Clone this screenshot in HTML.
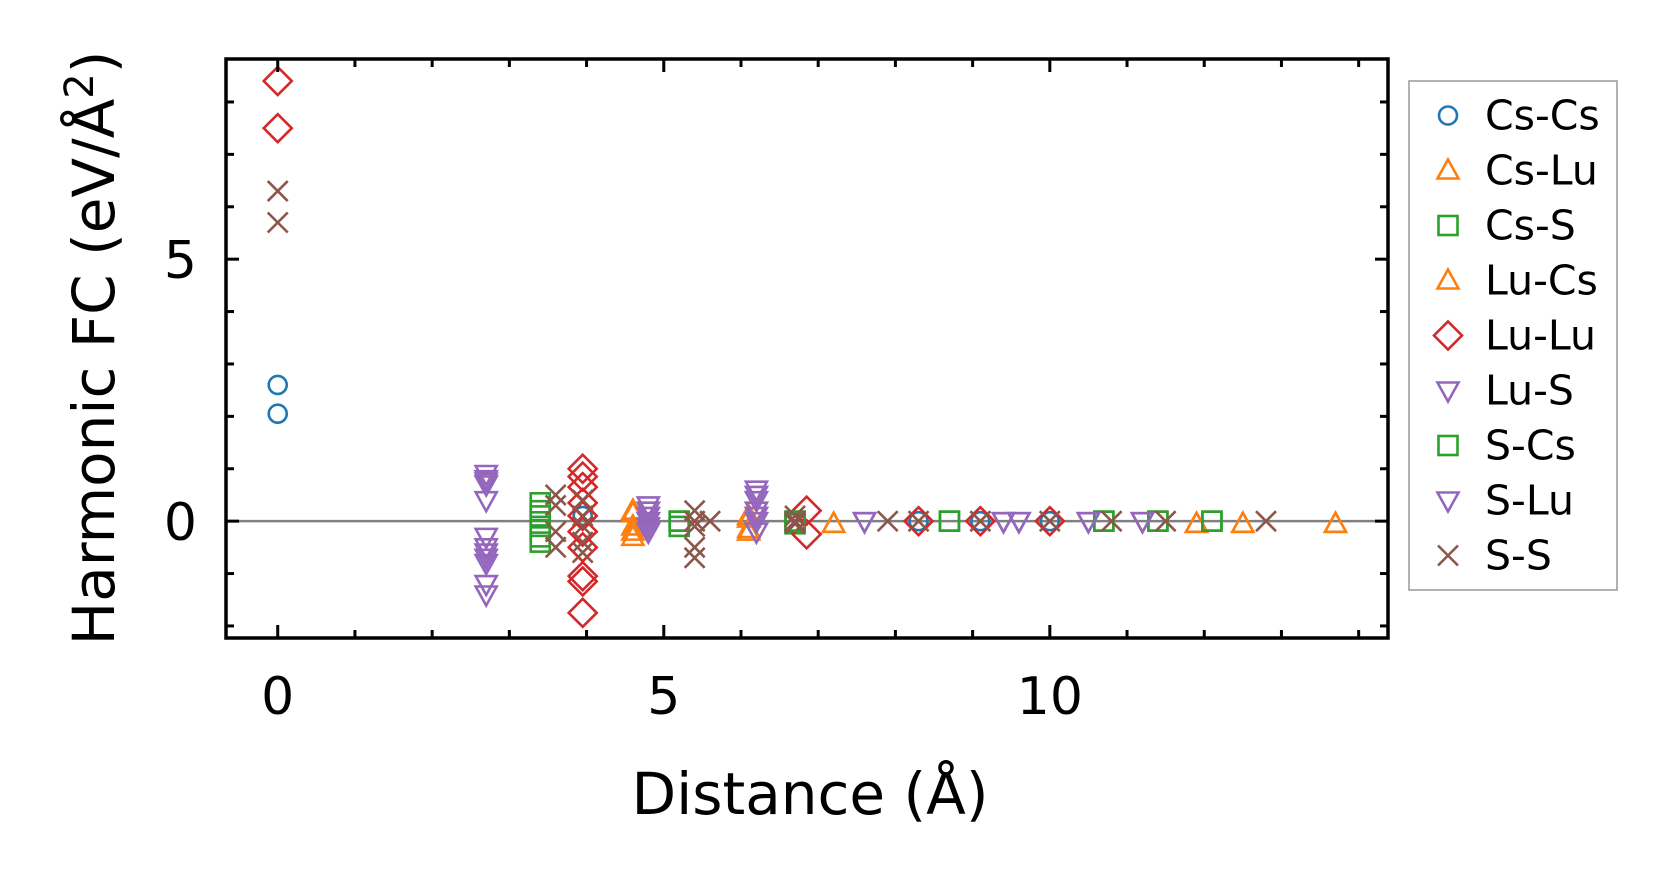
<!DOCTYPE html>
<html><head><meta charset="utf-8">
<style>
html,body{margin:0;padding:0;background:#fff;}
svg{display:block;font-family:"DejaVu Sans","Liberation Sans",sans-serif;}
</style></head>
<body>
<svg id="chart" width="1677" height="883" viewBox="0 0 1677 883" xmlns="http://www.w3.org/2000/svg"></svg>
<script>
// ---- data ----
const csCsX = [0, 0, 3.95, 8.3, 9.1, 10];
const csCsY = [2.6, 2.05, 0.1, 0, 0, 0];
const csLuX = [4.6, 4.6, 4.6, 6.1, 6.1, 7.2, 11.9, 12.5, 13.7];
const csLuY = [0.15, -0.1, -0.3, 0.05, -0.2, -0.05, -0.05, -0.05, -0.05];
const csSX = [3.4, 3.4, 3.4, 3.4, 5.2, 5.2, 6.7, 6.7, 8.7, 10.7, 11.4, 12.1];
const csSY = [0.35, 0.1, -0.1, -0.4, 0, -0.1, 0, -0.05, 0, 0, 0, 0];
const luCsX = [4.6, 4.6, 6.1, 6.1, 7.2, 11.9, 12.5, 13.7];
const luCsY = [0.2, -0.2, 0.1, -0.15, -0.05, -0.05, -0.05, -0.05];
const luLuX = [0, 0, 3.95, 3.95, 3.95, 3.95, 3.95, 3.95, 3.95, 3.95, 3.95, 3.95, 6.85, 6.85, 8.3, 9.1, 10];
const luLuY = [8.4, 7.5, 1.0, 0.85, 0.65, 0.35, 0.1, -0.2, -0.5, -1.05, -1.15, -1.75, 0.2, -0.25, 0, 0, 0];
const luSX = [2.7, 2.7, 2.7, 2.7, 2.7, 2.7, 2.7, 2.7, 2.7, 2.7, 4.8, 4.8, 4.8, 4.8, 6.2, 6.2, 6.2, 6.2, 6.2, 7.6, 9.4, 9.6, 10.5, 11.2];
const luSY = [0.9, 0.8, 0.7, 0.4, -0.3, -0.5, -0.7, -0.8, -1.2, -1.4, 0.3, 0.1, 0, -0.2, 0.6, 0.4, 0.2, 0, -0.2, 0, 0, 0, 0, 0];
const sLuX = [2.7, 2.7, 4.8, 4.8, 6.2, 6.2, 7.6, 9.4, 9.6, 10.5, 11.2];
const sLuY = [0.75, -0.6, 0.2, -0.1, 0.5, 0.1, 0, 0, 0, 0, 0];
const sCsX = [3.4, 3.4, 5.2, 6.7, 8.7, 10.7, 11.4, 12.1];
const sCsY = [0.2, -0.3, 0, 0, 0, 0, 0, 0];
const sSX = [0, 0, 3.6, 3.6, 3.6, 3.6, 3.95, 3.95, 3.95, 3.95, 3.95, 5.4, 5.4, 5.4, 5.4, 5.4, 5.6, 6.7, 6.7, 6.7, 7.9, 8.3, 9.1, 10, 10.8, 11.5, 12.8];
const sSY = [6.3, 5.7, 0.5, 0.3, -0.2, -0.5, 0.4, 0.1, -0.1, -0.4, -0.6, 0.2, 0, -0.1, -0.5, -0.7, 0, 0.1, 0, -0.05, 0, 0, 0, 0, 0, 0, 0];
const xTicks = [0, 5, 10];
const yTicks = [0, 5];
const legendLabels = ["Cs-Cs","Cs-Lu","Cs-S","Lu-Cs","Lu-Lu","Lu-S","S-Cs","S-Lu","S-S"];

// ---- axes ----
const L=226, R=1388, T=59, B=638;
const xMin=-0.67, xMax=14.38, yMin=-2.23, yMax=8.82;
const sx = v => L + (v - xMin) / (xMax - xMin) * (R - L);
const sy = v => B - (v - yMin) / (yMax - yMin) * (B - T);
const svg = document.getElementById('chart');
const NS = 'http://www.w3.org/2000/svg';
function mk(tag, attrs, parent){const e=document.createElementNS(NS,tag);for(const k in attrs)e.setAttribute(k,attrs[k]);(parent||svg).appendChild(e);return e;}

const zl = mk('line',{x1:L,x2:R,y1:sy(0),y2:sy(0),stroke:'#808080','stroke-width':2.5});



function marker(type, color, x, y, g){
  let e;
  const w = 2.6;
  if(type==='o'){ e=mk('circle',{cx:x,cy:y,r:9,fill:'none',stroke:color,'stroke-width':w},g); }
  else if(type==='^'){ e=mk('polygon',{points:`${x},${y-11} ${x+10.5},${y+8} ${x-10.5},${y+8}`,fill:'none',stroke:color,'stroke-width':w},g); }
  else if(type==='v'){ e=mk('polygon',{points:`${x},${y+11} ${x+10.5},${y-8} ${x-10.5},${y-8}`,fill:'none',stroke:color,'stroke-width':w},g); }
  else if(type==='s'){ e=mk('rect',{x:x-9.5,y:y-9.5,width:19,height:19,fill:'none',stroke:color,'stroke-width':w},g); }
  else if(type==='D'){ e=mk('polygon',{points:`${x},${y-14} ${x+14},${y} ${x},${y+14} ${x-14},${y}`,fill:'none',stroke:color,'stroke-width':w},g); }
  else { e=mk('path',{d:`M${x-10},${y-10}L${x+10},${y+10}M${x+10},${y-10}L${x-10},${y+10}`,fill:'none',stroke:color,'stroke-width':w},g); }
  return e;
}
const series = [
  ['cs-cs','o','#1f77b4',csCsX,csCsY],
  ['cs-lu','^','#ff7f0e',csLuX,csLuY],
  ['cs-s','s','#2ca02c',csSX,csSY],
  ['lu-cs','^','#ff7f0e',luCsX,luCsY],
  ['lu-lu','D','#d62728',luLuX,luLuY],
  ['lu-s','v','#9467bd',luSX,luSY],
  ['s-cs','s','#2ca02c',sCsX,sCsY],
  ['s-lu','v','#9467bd',sLuX,sLuY],
  ['s-s','x','#8c564b',sSX,sSY]
];
series.forEach(s=>{
  const g = mk('g',{});
  
  
  s[3].forEach((xv,i)=>{
    const m = marker(s[1],s[2],sx(xv),sy(s[4][i]),g);
    
    
  });
});

const fr = mk('rect',{x:L,y:T,width:R-L,height:B-T,fill:'none',stroke:'#000','stroke-width':3.5});



const tg = mk('g',{stroke:'#000','stroke-width':3});


for(let v=0; v<=14; v++){
  const len = (v%5===0)?13:8;
  mk('line',{x1:sx(v),x2:sx(v),y1:B,y2:B-len},tg);
  mk('line',{x1:sx(v),x2:sx(v),y1:T,y2:T+len},tg);
}
for(let v=-2; v<=8; v++){
  const len = (v%5===0)?13:8;
  mk('line',{x1:L,x2:L+len,y1:sy(v),y2:sy(v)},tg);
  mk('line',{x1:R,x2:R-len,y1:sy(v),y2:sy(v)},tg);
}
xTicks.forEach(v=>{
  const t = mk('text',{x:sx(v),y:714,'text-anchor':'middle','font-size':52,fill:'#000'});
  t.textContent = String(v);
  
  
});
yTicks.forEach(v=>{
  const t = mk('text',{x:197,y:sy(v)+19,'text-anchor':'end','font-size':52,fill:'#000'});
  t.textContent = String(v);
  
  
});

const xt = mk('text',{x:810,y:814,'text-anchor':'middle','font-size':58,fill:'#000'});
xt.textContent = 'Distance (Å)';


const yt = mk('text',{x:0,y:0,'text-anchor':'middle','font-size':58,fill:'#000',transform:'translate(114,348) rotate(-90)'});
yt.innerHTML = 'Harmonic FC (eV/Å<tspan dy="-21" font-size="40">2</tspan><tspan dy="21">)</tspan>';



const lg = mk('g',{});


mk('rect',{x:1409,y:81,width:208,height:509,fill:'#fff',stroke:'#999','stroke-width':1.5},lg);
series.forEach((s,i)=>{
  const y = 115.5 + i*55;
  const e = mk('g',{},lg);
  
  
  marker(s[1],s[2],1448,y,e);
  const t = mk('text',{x:1485,y:y+14,'font-size':41,fill:'#000'},e);
  t.textContent = legendLabels[i];
});
</script>
</body></html>
